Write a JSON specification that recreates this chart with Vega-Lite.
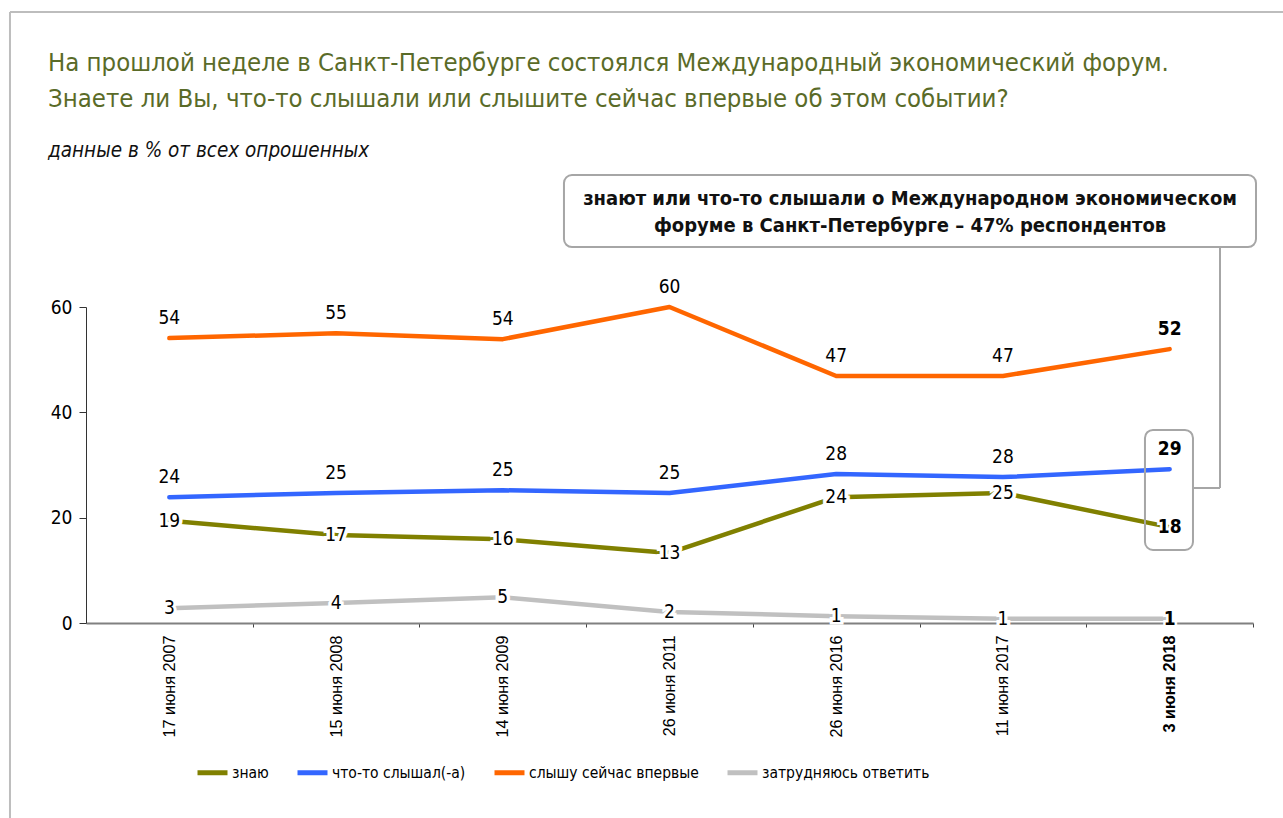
{
  "$schema": "https://vega.github.io/schema/vega-lite/v6.json",
  "width": 1167,
  "height": 316,
  "autosize": {"type": "none"},
  "padding": {"left": 86, "top": 307, "right": 30, "bottom": 195},
  "background": "white",
  "config": {
    "view": {"stroke": null},
    "font": "DejaVu Sans Condensed, DejaVu Sans, sans-serif"
  },
  "title": {
    "text": ["На прошлой неделе в Санкт-Петербурге состоялся Международный экономический форум.", "Знаете ли Вы, что-то слышали или слышите сейчас впервые об этом событии?"],
    "subtitle": "данные в % от всех опрошенных",
    "anchor": "start",
    "frame": "group",
    "orient": "top",
    "offset": 0,
    "font": "DejaVu Sans Condensed, DejaVu Sans, sans-serif",
    "fontSize": 25.5,
    "fontWeight": "normal",
    "color": "#5a6b28",
    "lineHeight": 36,
    "subtitleFont": "DejaVu Sans Condensed, DejaVu Sans, sans-serif",
    "subtitleFontSize": 20.5,
    "subtitleFontStyle": "italic",
    "subtitleColor": "#111111",
    "subtitlePadding": 28,
    "dx": -38,
    "dy": 150
  },
  "datasets": {
    "series": [
      {"d": 0, "s": "знаю", "v": 19.4},
      {"d": 1, "s": "знаю", "v": 16.7},
      {"d": 2, "s": "знаю", "v": 15.9},
      {"d": 3, "s": "знаю", "v": 13.3},
      {"d": 4, "s": "знаю", "v": 23.9},
      {"d": 5, "s": "знаю", "v": 24.7},
      {"d": 6, "s": "знаю", "v": 18.2},
      {"d": 0, "s": "что-то слышал(-а)", "v": 23.9},
      {"d": 1, "s": "что-то слышал(-а)", "v": 24.7},
      {"d": 2, "s": "что-то слышал(-а)", "v": 25.2},
      {"d": 3, "s": "что-то слышал(-а)", "v": 24.7},
      {"d": 4, "s": "что-то слышал(-а)", "v": 28.3},
      {"d": 5, "s": "что-то слышал(-а)", "v": 27.7},
      {"d": 6, "s": "что-то слышал(-а)", "v": 29.2},
      {"d": 0, "s": "слышу сейчас впервые", "v": 54.1},
      {"d": 1, "s": "слышу сейчас впервые", "v": 55.0},
      {"d": 2, "s": "слышу сейчас впервые", "v": 53.9},
      {"d": 3, "s": "слышу сейчас впервые", "v": 60.0},
      {"d": 4, "s": "слышу сейчас впервые", "v": 46.9},
      {"d": 5, "s": "слышу сейчас впервые", "v": 46.9},
      {"d": 6, "s": "слышу сейчас впервые", "v": 52.0},
      {"d": 0, "s": "затрудняюсь ответить", "v": 2.8},
      {"d": 1, "s": "затрудняюсь ответить", "v": 3.8},
      {"d": 2, "s": "затрудняюсь ответить", "v": 4.9},
      {"d": 3, "s": "затрудняюсь ответить", "v": 2.1},
      {"d": 4, "s": "затрудняюсь ответить", "v": 1.3},
      {"d": 5, "s": "затрудняюсь ответить", "v": 0.8},
      {"d": 6, "s": "затрудняюсь ответить", "v": 0.8}
    ]
  },
  "layer": [
    {
      "data": {"values": [{}]},
      "mark": {"type": "rule", "stroke": "#bdbdbd", "strokeWidth": 2},
      "encoding": {
        "x": {"datum": -0.956, "type": "quantitative"},
        "y": {"datum": 116.0, "type": "quantitative"},
        "y2": {"datum": -37.03}
      }
    },
    {
      "data": {"values": [{}]},
      "mark": {"type": "rule", "stroke": "#bdbdbd", "strokeWidth": 2},
      "encoding": {
        "x": {"datum": -0.956, "type": "quantitative"},
        "x2": {"datum": 6.68},
        "y": {"datum": 116.0, "type": "quantitative"}
      }
    },
    {
      "data": {"name": "series"},
      "mark": {"type": "line", "strokeWidth": 4.5, "strokeCap": "round", "strokeJoin": "round"},
      "encoding": {
        "x": {
          "field": "d",
          "type": "quantitative",
          "scale": {"domain": [-0.5, 6.5], "nice": false, "zero": false},
          "axis": {
            "title": null,
            "values": [0, 1, 2, 3, 4, 5, 6],
            "labelExpr": "['17 июня 2007','15 июня 2008','14 июня 2009','26 июня 2011','26 июня 2016','11 июня 2017','3 июня 2018'][datum.value]",
            "labelAngle": 270,
            "labelAlign": "right",
            "labelBaseline": "middle",
            "labelFont": "Liberation Sans, Arial, sans-serif",
            "labelFontSize": 16.2,
            "labelColor": "#000000",
            "labelPadding": 8,
            "labelFontWeight": {"condition": {"test": "datum.value == 6", "value": "bold"}, "value": "normal"},
            "labelFlush": false,
            "labelOverlap": false,
            "tickOffset": 83.36,
            "labelOffset": -83.36,
            "tickSize": 4,
            "tickColor": "#444444",
            "domainColor": "#808080",
            "domainWidth": 2,
            "grid": false
          }
        },
        "y": {
          "field": "v",
          "type": "quantitative",
          "scale": {"domain": [0, 60], "nice": false, "zero": true},
          "axis": {
            "title": null,
            "values": [0, 20, 40, 60],
            "grid": false,
            "tickSize": 7,
            "tickColor": "#333333",
            "domainColor": "#333333",
            "labelFontSize": 19,
            "labelColor": "#000000",
            "labelPadding": 7
          }
        },
        "color": {
          "field": "s",
          "type": "nominal",
          "scale": {
            "domain": ["знаю", "что-то слышал(-а)", "слышу сейчас впервые", "затрудняюсь ответить"],
            "range": ["#808000", "#3366ff", "#ff6600", "#c0c0c0"]
          },
          "legend": {
            "title": null,
            "orient": "none",
            "legendX": 109,
            "legendY": 448,
            "direction": "horizontal",
            "columns": 4,
            "symbolType": "stroke",
            "symbolSize": 900,
            "symbolStrokeWidth": 5,
            "labelFontSize": 15.5,
            "labelColor": "#000000",
            "labelLimit": 400,
            "labelOffset": 2,
            "columnPadding": 18
          }
        }
      }
    },
    {
      "data": {"name": "series"},
      "transform": [{"filter": "(datum.s == 'что-то слышал(-а)' || datum.s == 'слышу сейчас впервые') && datum.d < 6"}],
      "mark": {"type": "text", "dy": -20, "fontSize": 19, "color": "#000000"},
      "encoding": {
        "x": {"field": "d", "type": "quantitative"},
        "y": {"field": "v", "type": "quantitative"},
        "text": {"field": "v", "type": "quantitative", "format": ".0f"}
      }
    },
    {
      "data": {"name": "series"},
      "transform": [{"filter": "(datum.s == 'что-то слышал(-а)' || datum.s == 'слышу сейчас впервые') && datum.d == 6"}],
      "mark": {"type": "text", "dy": -20, "fontSize": 19, "fontWeight": "bold", "color": "#000000"},
      "encoding": {
        "x": {"field": "d", "type": "quantitative"},
        "y": {"field": "v", "type": "quantitative"},
        "text": {"field": "v", "type": "quantitative", "format": ".0f"}
      }
    },
    {
      "data": {"name": "series"},
      "transform": [{"filter": "datum.s == 'знаю' || datum.s == 'затрудняюсь ответить'"}],
      "mark": {"type": "text", "fontSize": 19, "fontWeight": "bold", "stroke": "white", "strokeWidth": 5, "color": "white"},
      "encoding": {
        "x": {"field": "d", "type": "quantitative"},
        "y": {"field": "v", "type": "quantitative"},
        "text": {"field": "v", "type": "quantitative", "format": ".0f"}
      }
    },
    {
      "data": {"name": "series"},
      "transform": [{"filter": "(datum.s == 'знаю' || datum.s == 'затрудняюсь ответить') && datum.d < 6"}],
      "mark": {"type": "text", "fontSize": 19, "color": "#000000"},
      "encoding": {
        "x": {"field": "d", "type": "quantitative"},
        "y": {"field": "v", "type": "quantitative"},
        "text": {"field": "v", "type": "quantitative", "format": ".0f"}
      }
    },
    {
      "data": {"name": "series"},
      "transform": [{"filter": "(datum.s == 'знаю' || datum.s == 'затрудняюсь ответить') && datum.d == 6"}],
      "mark": {"type": "text", "fontSize": 19, "fontWeight": "bold", "color": "#000000"},
      "encoding": {
        "x": {"field": "d", "type": "quantitative"},
        "y": {"field": "v", "type": "quantitative"},
        "text": {"field": "v", "type": "quantitative", "format": ".0f"}
      }
    },
    {
      "data": {"values": [{}]},
      "mark": {"type": "rect", "fill": "white", "stroke": "#a6a6a6", "strokeWidth": 2, "cornerRadius": 8},
      "encoding": {
        "x": {"datum": 2.367, "type": "quantitative"},
        "x2": {"datum": 6.518},
        "y": {"datum": 85.06, "type": "quantitative"},
        "y2": {"datum": 71.39}
      }
    },
    {
      "data": {"values": [{}]},
      "mark": {
        "type": "text",
        "text": ["знают или что-то слышали о Международном экономическом", "форуме в Санкт-Петербурге – 47% респондентов"],
        "lineHeight": 27,
        "fontSize": 20,
        "fontWeight": "bold",
        "color": "#111111",
        "align": "center",
        "baseline": "middle"
      },
      "encoding": {
        "x": {"datum": 4.443, "type": "quantitative"},
        "y": {"datum": 80.51, "type": "quantitative"}
      }
    },
    {
      "data": {"values": [{}]},
      "mark": {"type": "rect", "fill": null, "fillOpacity": 0, "stroke": "#a6a6a6", "strokeWidth": 2, "cornerRadius": 8},
      "encoding": {
        "x": {"datum": 5.852, "type": "quantitative"},
        "x2": {"datum": 6.14},
        "y": {"datum": 36.65, "type": "quantitative"},
        "y2": {"datum": 13.86}
      }
    },
    {
      "data": {"values": [{}]},
      "mark": {"type": "rule", "stroke": "#a6a6a6", "strokeWidth": 2},
      "encoding": {
        "x": {"datum": 6.302, "type": "quantitative"},
        "y": {"datum": 71.39, "type": "quantitative"},
        "y2": {"datum": 25.63}
      }
    },
    {
      "data": {"values": [{}]},
      "mark": {"type": "rule", "stroke": "#a6a6a6", "strokeWidth": 2},
      "encoding": {
        "x": {"datum": 6.14, "type": "quantitative"},
        "x2": {"datum": 6.302},
        "y": {"datum": 25.63, "type": "quantitative"}
      }
    }
  ]
}
